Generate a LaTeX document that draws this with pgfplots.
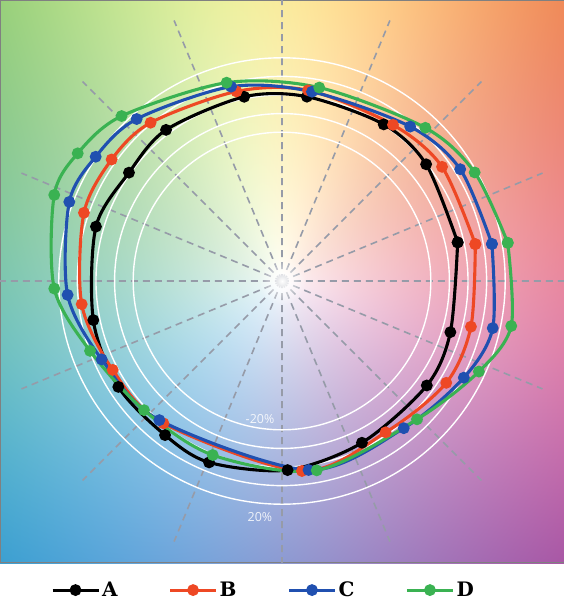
\documentclass[border=0pt]{standalone}
\usepackage{fontspec}
\usepackage{pgfplots}
\usepackage{pgfplotstable}
\pgfplotsset{compat=1.18}
\usepgfplotslibrary{polar}
\usetikzlibrary{fadings}
\newfontfamily\labfont{Open Sans}
\newfontfamily\legfont{DejaVu Serif}

\definecolor{serA}{RGB}{0,0,0}
\definecolor{serB}{RGB}{238,72,36}
\definecolor{serC}{RGB}{32,80,176}
\definecolor{serD}{RGB}{58,178,82}
\definecolor{spoke}{RGB}{150,155,168}

\tikzfading[name=glow, inner color=transparent!0, outer color=transparent!100]

% hue wheel behind the plot: angle -> hue (trig fit of 8 samples), radius -> saturation
% tikz fits the inner 50bp square of the box to the path, so corners sit at r = 35.4
\pgfdeclarefunctionalshading{huewheel}{\pgfpoint{-50bp}{-50bp}}{\pgfpoint{50bp}{50bp}}{}{
  2 copy dup mul exch dup mul add sqrt 35.4 div 0.7 exp
  3 1 roll exch 0.0001 add atan
  dup cos 0.2712 mul 1 index sin 0.2499 mul add
  1 index 2 mul cos -0.0405 mul add 1 index 2 mul sin -0.0198 mul add
  1 index 3 mul cos -0.0007 mul add 1 index 3 mul sin -0.0226 mul add
  1 index 4 mul cos 0.0241 mul add 0.6319 add
  1 exch sub 2 index mul 1 exch sub 3 1 roll
  dup cos -0.1761 mul 1 index sin 0.1703 mul add
  1 index 2 mul cos -0.0685 mul add 1 index 2 mul sin 0.0020 mul add
  1 index 3 mul cos 0.0211 mul add 1 index 3 mul sin -0.0317 mul add
  1 index 4 mul cos 0.0235 mul add 0.6040 add
  1 exch sub 2 index mul 1 exch sub 3 1 roll
  dup cos -0.0749 mul 1 index sin -0.1806 mul add
  1 index 2 mul cos -0.0400 mul add 1 index 2 mul sin 0.0090 mul add
  1 index 3 mul cos 0.0319 mul add 1 index 3 mul sin -0.0456 mul add
  1 index 4 mul cos 0.0148 mul add 0.5863 add
  1 exch sub 2 index mul 1 exch sub 3 1 roll
  pop pop
}

% angle (deg), deviation (%)
\pgfplotstableread{
ang v
12.4 -3.3
39.0 -0.3
57.0 0.4
82.3 0.0
101.6 1.1
127.5 2.4
144.7 0.8
163.7 4.2
191.7 3.6
212.9 4.8
232.8 4.0
248.1 5.1
271.7 1.7
296.3 -3.0
324.2 -4.0
343.1 -5.4
372.4 -3.3
}\dataA

\pgfplotstableread{
ang v
10.8 5.8
35.5 5.7
54.6 3.0
82.2 3.5
103.5 4.8
129.7 10.6
144.5 12.5
161.0 12.6
186.6 8.4
207.7 2.8
230.2 -0.4
276.0 2.7
304.4 -1.4
328.2 3.9
346.4 4.5
370.8 5.8
}\dataB

\pgfplotstableread{
ang v
10.0 14.6
32.1 13.1
50.3 7.9
81.0 3.0
104.7 8.0
131.9 17.0
146.3 20.4
159.6 22.0
183.7 15.5
203.5 5.7
228.6 -0.3
278.0 2.6
309.6 2.7
332.0 10.7
347.4 16.1
370.0 14.6
}\dataC

\pgfplotstableread{
ang v
9.6 23.1
29.4 18.9
46.9 12.8
79.1 5.9
105.6 10.7
134.2 23.7
148.0 29.5
159.3 30.9
181.9 22.5
200.0 9.8
223.1 1.6
248.3 0.7
280.4 3.5
314.3 3.9
335.3 16.5
348.9 25.6
369.6 23.1
}\dataD

\begin{document}
\begin{tikzpicture}
\path[use as bounding box] (-282bp,281bp) rectangle (282bp,-319bp);
\shade[shading=huewheel] (-282bp,-282bp) rectangle (282bp,282bp);
\draw[gray, line width=0.8bp] (-282bp,-281bp) rectangle (282bp,281bp);
\begin{polaraxis}[
    at={(0,0)}, anchor=center,
    width=564bp, height=564bp, scale only axis,
    ymin=0, ymax=151.6,
    xtick={0,22.5,...,337.5},
    ytick={80,90,100,110,120},
    xticklabels={}, yticklabels={},
    tick label style={opacity=0},
    major tick length=0pt,
    xmajorgrids, ymajorgrids,
    x grid style={spoke, line width=1.6bp, dash pattern=on 7bp off 5bp},
    y grid style={white, line width=1.4bp},
    axis line style={draw=none},
    clip=false,
    legend columns=4,
    legend style={at={(0.467,-0.048)}, anchor=center, draw=none, fill=none,
        font=\legfont\fontsize{20}{24}\selectfont\bfseries,
        nodes={inner sep=2bp},
        /tikz/every even column/.append style={column sep=49bp}},
    legend image code/.code={\draw[mark repeat=2,mark phase=2,#1]
        plot coordinates {(0bp,0bp) (23bp,0bp) (46bp,0bp)};},
    every axis plot/.append style={line width=3.1bp, smooth, mark=*, mark size=4.3bp},
]
% white glow where the spokes meet
\fill[white, path fading=glow] (axis cs:0,0) circle (24bp);
\addplot[serA, mark options={fill=serA}] table[x=ang, y expr=\thisrow{v}+100] {\dataA};
\addplot[serB, mark options={fill=serB}] table[x=ang, y expr=\thisrow{v}+100] {\dataB};
\addplot[serC, mark options={fill=serC}] table[x=ang, y expr=\thisrow{v}+100] {\dataC};
\addplot[serD, mark options={fill=serD}] table[x=ang, y expr=\thisrow{v}+100] {\dataD};
\legend{A, B, C, D}
\node[white, opacity=0.85, font=\labfont\fontsize{12.5}{14}\selectfont,
    xshift=-22bp, yshift=11bp] at (axis cs:270,80) {-20\%};
\node[white, opacity=0.85, font=\labfont\fontsize{12.5}{14}\selectfont,
    xshift=-22bp, yshift=-13bp] at (axis cs:270,120) {20\%};
\end{polaraxis}
\end{tikzpicture}
\end{document}
